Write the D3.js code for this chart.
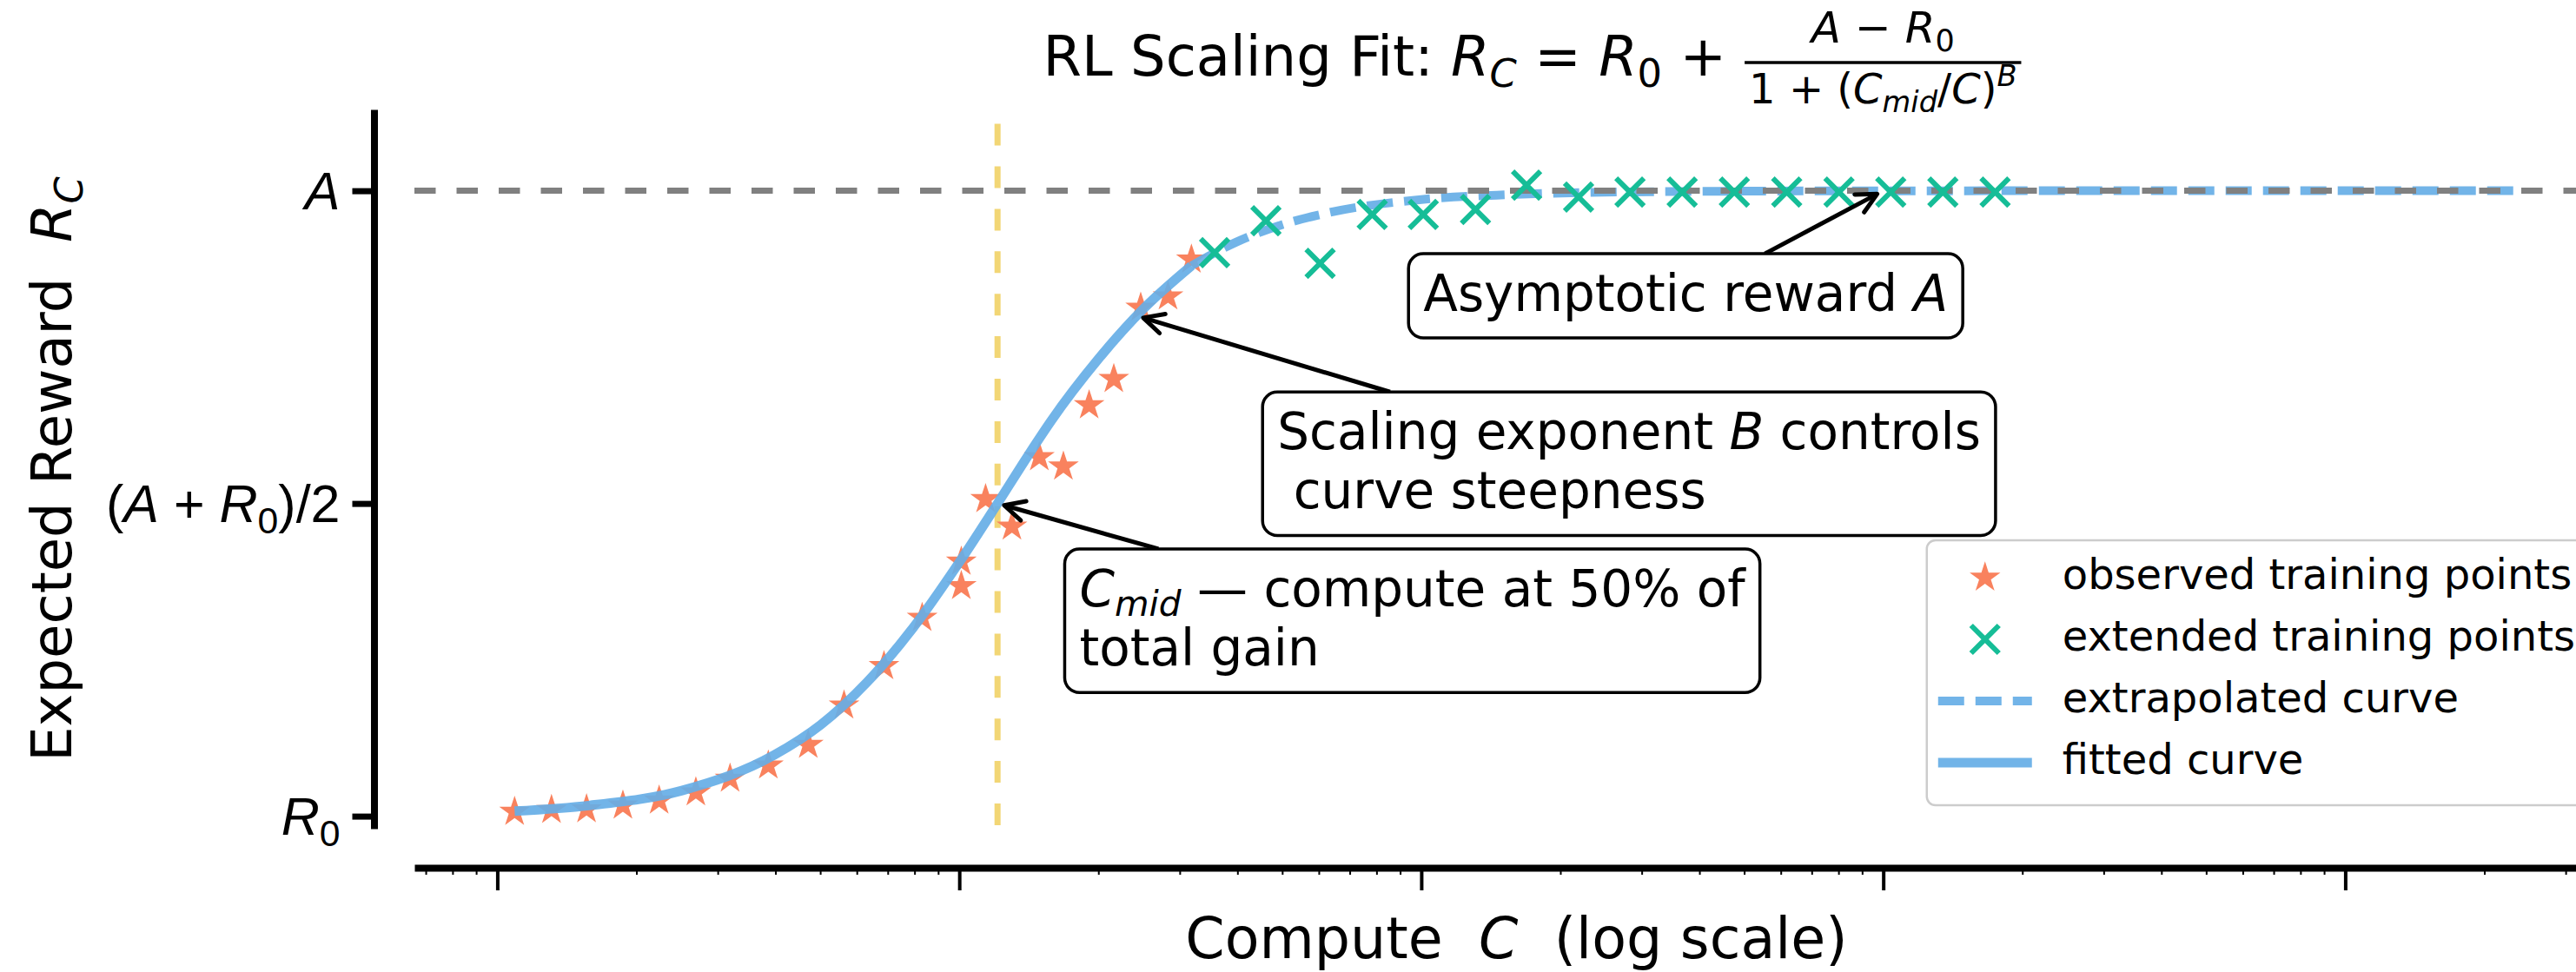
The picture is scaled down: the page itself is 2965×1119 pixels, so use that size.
<!DOCTYPE html>
<html>
<head>
<meta charset="utf-8">
<title>RL Scaling Fit</title>
<script src="https://cdn.jsdelivr.net/npm/d3@7"></script>
<style>
  body { margin: 0; background: #fff; }
  svg { display: block; font-family: "DejaVu Sans", sans-serif; }
  text { white-space: pre; }
</style>
</head>
<body>
<svg id="fit" width="2965" height="1119"></svg>
<script>
// reward is normalised: R0 = 0, A = 1
var R0 = 0, A = 1;
var Cmid = 12.1;

// observed training points (compute, reward)
var obsC = [1.09, 1.31, 1.56, 1.87, 2.24, 2.69, 3.19, 3.86, 4.71, 5.63, 6.87, 8.31, 10.1, 10.1, 11.4, 13.0, 14.9, 16.8, 19.1, 21.6, 24.7, 28.3, 31.8];
var obsR = [0.007, 0.010, 0.011, 0.017, 0.025, 0.038, 0.060, 0.081, 0.114, 0.177, 0.240, 0.317, 0.368, 0.407, 0.507, 0.463, 0.574, 0.559, 0.657, 0.699, 0.813, 0.831, 0.890];

// extended training points
var extC = [35.7, 46.1, 60.4, 78.3, 101, 131, 169, 219, 283, 367, 476, 618, 802, 1038, 1346, 1746];
var extR = [0.901, 0.952, 0.884, 0.962, 0.962, 0.970, 1.009, 0.990, 0.998, 0.998, 0.998, 0.998, 0.998, 0.998, 0.998, 0.998];

// fitted curve
var fitC = [1.09, 1.58, 2.51, 3.98, 5.01, 6.31, 7.94, 10.0, 12.1, 14.1, 15.8, 20.0, 25.1, 31.8];
var fitR = [0.008, 0.017, 0.041, 0.098, 0.146, 0.214, 0.301, 0.406, 0.500, 0.577, 0.632, 0.731, 0.812, 0.880];

// extrapolated curve
var extrapC = [31.8, 39.8, 50.1, 63.1, 100, 158, 316, 1000, 3162, 23700];
var extrapR = [0.880, 0.918, 0.946, 0.965, 0.986, 0.994, 0.9985, 0.9999, 1.0, 1.0];

var yTicks = [R0, (A + R0) / 2, A];
var yTickLabels = [
    [["R", "i"], ["0", "sub"]],
    [["(", ""], ["A", "i"], [" + ", ""], ["R", "i"], ["0", "sub"], [")/2", ""]],
    [["A", "i"]]
];

var legendLabels = ["observed training points", "extended training points", "extrapolated curve", "fitted curve"];

// annotations: text lines, text anchor (data), arrow target (data)
var noteLines = [
    [[["Asymptotic reward ", ""], ["A", "i"]]],
    [[["Scaling exponent ", ""], ["B", "i"], [" controls", ""]], [["\u00a0curve steepness", ""]]],
    [[["C", "i"], ["mid", "isub"], [" \u2014 compute at 50% of", ""]], [["total gain", ""]]]
];
var noteAt = [[101, 0.808], [48.8, 0.587], [18.2, 0.336]];
var notePoint = [[1000, A], [24.2, 0.8], [Cmid, (A + R0) / 2]];

var colors = { obs: "#f9825e", ext: "#16bd97", fit: "#66aee6", ref: "#808080", mid: "#f2d675" };

var svg = d3.select("svg#fit"),
    margin = { top: 126, left: 477 },
    width = 2537,
    height = 828,
    g = svg.append("g").attr("transform", "translate(" + margin.left + "," + margin.top + ")");

// log x with 5% padding around the plotted compute range
var allC = obsC.concat(extC, fitC, extrapC);
var lo = Math.log10(d3.min(allC)), hi = Math.log10(d3.max(allC)), pad = (hi - lo) * 0.05;
var x = d3.scaleLog()
    .domain([Math.pow(10, lo - pad), Math.pow(10, hi + pad)])
    .range([0, width]);

var y = d3.scaleLinear()
    .domain([-0.02, 1.13])
    .range([height, 0]);

// writes mathtext-like runs (italic, sub, sup) into a text node
function rich(sel, parts, fs) {
    var shift = 0;
    parts.forEach(function (p) {
        var kind = p[1] || "";
        var target = kind.indexOf("sub") >= 0 ? fs * 0.2 : kind.indexOf("sup") >= 0 ? -fs * 0.42 : 0;
        var ts = sel.append("tspan").text(p[0]);
        if (target !== shift) { ts.attr("dy", target - shift); shift = target; }
        if (kind.charAt(0) === "i") ts.style("font-style", "italic");
        if (target !== 0) ts.style("font-size", (fs * 0.7) + "px");
    });
}

// anchor by measuring, so tspans with shifts do not upset alignment
function place(t, ax, align) {
    var w = t.node().getComputedTextLength();
    t.attr("text-anchor", "start")
        .attr("x", align === "end" ? ax - w : align === "middle" ? ax - w / 2 : ax);
    return w;
}

function isMajor(d) {
    var l = Math.log10(d);
    return Math.abs(l - Math.round(l)) < 1e-9;
}

// axes, spines pushed outward
var xAxis = g.append("g")
    .attr("transform", "translate(0," + (height + 45) + ")")
    .call(d3.axisBottom(x).tickValues(x.ticks()).tickFormat("").tickSizeOuter(0));
xAxis.select(".domain").attr("stroke-width", 8);
xAxis.selectAll(".tick line")
    .attr("y2", function (d) { return isMajor(d) ? 26 : 8; })
    .attr("stroke-width", function (d) { return isMajor(d) ? 4 : 2; });

var yAxis = g.append("g")
    .attr("transform", "translate(-46.5,0)")
    .call(d3.axisLeft(y).tickValues(yTicks).tickFormat("").tickSize(25).tickSizeOuter(0));
yAxis.select(".domain").attr("stroke-width", 8);
yAxis.selectAll(".tick line").attr("stroke-width", 7);
yAxis.selectAll(".tick").each(function (d, i) {
    var t = d3.select(this).append("text")
        .attr("dy", "0.35em")
        .attr("fill", "#000")
        .style("font-size", "61px");
    rich(t, yTickLabels[i], 61);
    place(t, -39, "end");
});

// reference lines
g.append("line")
    .attr("x1", x(Cmid)).attr("x2", x(Cmid))
    .attr("y1", height - 4).attr("y2", 0)
    .attr("stroke", colors.mid)
    .attr("stroke-width", 7)
    .attr("stroke-dasharray", "25,23.9");

// observed points
var star = d3.symbol().type(d3.symbolStar).size(390);
g.append("g").selectAll("path")
    .data(obsC.map(function (c, i) { return [c, obsR[i]]; }))
    .enter().append("path")
    .attr("transform", function (d) { return "translate(" + x(d[0]) + "," + y(d[1]) + ")"; })
    .attr("d", star)
    .attr("fill", colors.obs);

var line = d3.line()
    .x(function (d) { return x(d[0]); })
    .y(function (d) { return y(d[1]); })
    .curve(d3.curveMonotoneX);

g.append("path")
    .datum(fitC.map(function (c, i) { return [c, fitR[i]]; }))
    .attr("d", line)
    .attr("fill", "none")
    .attr("stroke", colors.fit)
    .attr("stroke-opacity", 0.92)
    .attr("stroke-width", 11);

g.append("path")
    .datum(extrapC.map(function (c, i) { return [c, extrapR[i]]; }))
    .attr("d", line)
    .attr("fill", "none")
    .attr("stroke", colors.fit)
    .attr("stroke-opacity", 0.92)
    .attr("stroke-width", 10)
    .attr("stroke-dasharray", "30,13");

g.append("line")
    .attr("x1", 0).attr("x2", width)
    .attr("y1", y(A)).attr("y2", y(A))
    .attr("stroke", colors.ref)
    .attr("stroke-width", 7)
    .attr("stroke-dasharray", "24.5,24");

// extended points
var cross = "M-16,-16L16,16M-16,16L16,-16";
g.append("g").selectAll("path")
    .data(extC.map(function (c, i) { return [c, extR[i]]; }))
    .enter().append("path")
    .attr("transform", function (d) { return "translate(" + x(d[0]) + "," + y(d[1]) + ")"; })
    .attr("d", cross)
    .attr("stroke", colors.ext)
    .attr("stroke-width", 6);

// annotations
var fs = 58, lead = 68.4, boxPad = 17;
noteLines.forEach(function (lines, k) {
    var tx = x(noteAt[k][0]), ty = y(noteAt[k][1]);
    var note = g.append("g");
    var arrow = note.append("g");
    var box = note.append("rect");
    var maxW = 0;
    lines.forEach(function (parts, j) {
        var t = note.append("text")
            .attr("y", ty + j * lead)
            .style("font-size", fs + "px");
        rich(t, parts, fs);
        maxW = Math.max(maxW, place(t, tx, "start"));
    });
    var bx0 = tx - boxPad, bx1 = tx + maxW + boxPad,
        by0 = ty - 0.84 * fs - boxPad, by1 = ty + (lines.length - 1) * lead + 0.245 * fs + boxPad;
    box.attr("x", bx0).attr("y", by0)
        .attr("width", bx1 - bx0).attr("height", by1 - by0)
        .attr("rx", boxPad).attr("ry", boxPad)
        .attr("fill", "#fff").attr("stroke", "#000").attr("stroke-width", 3.5);

    var cx = (bx0 + bx1) / 2, cy = (by0 + by1) / 2;
    var px = x(notePoint[k][0]), py = y(notePoint[k][1]);
    var dx = px - cx, dy = py - cy, len = Math.sqrt(dx * dx + dy * dy);
    var ux = dx / len, uy = dy / len;
    var t0 = Math.min((bx1 - bx0) / 2 / Math.abs(dx), (by1 - by0) / 2 / Math.abs(dy));
    var sx = cx + dx * t0, sy = cy + dy * t0;
    var ex = px - ux * 8, ey = py - uy * 8;
    var hl = 23, hw = 11.5;
    arrow.append("line")
        .attr("x1", sx).attr("y1", sy).attr("x2", ex).attr("y2", ey)
        .attr("stroke", "#000").attr("stroke-width", 5);
    arrow.append("path")
        .attr("d", "M" + (ex - ux * hl - uy * hw) + "," + (ey - uy * hl + ux * hw) +
            "L" + ex + "," + ey +
            "L" + (ex - ux * hl + uy * hw) + "," + (ey - uy * hl - ux * hw))
        .attr("fill", "none").attr("stroke", "#000").attr("stroke-width", 5)
        .attr("stroke-linecap", "round").attr("stroke-linejoin", "round");
});

// labels
var xl = svg.append("text")
    .attr("y", margin.top + height + 149)
    .style("font-size", "65px");
rich(xl, [["Compute\u00a0\u00a0", ""], ["C", "i"], ["\u00a0\u00a0(log scale)", ""]], 65);
place(xl, margin.left + width / 2, "middle");

var yl = svg.append("text")
    .attr("transform", "translate(82," + (margin.top + height / 2) + ") rotate(-90)")
    .style("font-size", "64px");
rich(yl, [["Expected Reward\u00a0\u00a0", ""], ["R", "i"], ["C", "isub"]], 64);
place(yl, 0, "middle");

// title with the fraction
var title = svg.append("g");
var head = title.append("text").attr("y", 87).style("font-size", "64px");
rich(head, [["RL Scaling Fit: ", ""], ["R", "i"], ["C", "isub"], [" = ", ""], ["R", "i"], ["0", "sub"], [" +", ""]], 64);
var num = title.append("text").attr("y", 49).style("font-size", "50px");
rich(num, [["A", "i"], [" \u2212 ", ""], ["R", "i"], ["0", "sub"]], 50);
var den = title.append("text").attr("y", 119).style("font-size", "48px");
rich(den, [["1 + (", ""], ["C", "i"], ["mid", "isub"], ["/", ""], ["C", "i"], [")", ""], ["B", "isup"]], 48);

var headW = head.node().getComputedTextLength();
var fracW = Math.max(num.node().getComputedTextLength(), den.node().getComputedTextLength()) + 10;
var total = headW + 21 + fracW;
var x0 = margin.left + width / 2 + 18 - total / 2;
var fx = x0 + headW + 21 + fracW / 2;
place(head, x0, "start");
place(num, fx, "middle");
place(den, fx, "middle");
title.append("line")
    .attr("x1", fx - fracW / 2).attr("x2", fx + fracW / 2)
    .attr("y1", 72).attr("y2", 72)
    .attr("stroke", "#000").attr("stroke-width", 3.5);

// legend, lower right of the axes
var legend = svg.append("g");
var frame = legend.append("rect");
var maxL = 0;
var rows = legend.selectAll("g.row")
    .data(legendLabels)
    .enter().append("g")
    .attr("class", "row")
    .attr("transform", function (d, i) { return "translate(0," + (43 + i * 71) + ")"; });
rows.append("text")
    .attr("x", 156)
    .attr("y", 13)
    .style("font-size", "48px")
    .text(function (d) { return d; })
    .each(function () { maxL = Math.max(maxL, this.getComputedTextLength()); });

rows.filter(function (d, i) { return i === 0; }).append("path")
    .attr("transform", "translate(67,0)")
    .attr("d", star)
    .attr("fill", colors.obs);
rows.filter(function (d, i) { return i === 1; }).append("path")
    .attr("transform", "translate(67,0)")
    .attr("d", cross)
    .attr("stroke", colors.ext)
    .attr("stroke-width", 6);
rows.filter(function (d, i) { return i === 2; }).append("line")
    .attr("x1", 13).attr("x2", 121)
    .attr("stroke", colors.fit).attr("stroke-opacity", 0.92)
    .attr("stroke-width", 10).attr("stroke-dasharray", "30,13");
rows.filter(function (d, i) { return i === 3; }).append("line")
    .attr("x1", 13).attr("x2", 121)
    .attr("stroke", colors.fit).attr("stroke-opacity", 0.92)
    .attr("stroke-width", 11);

var legW = 156 + maxL + 26, legH = 305;
frame.attr("width", legW).attr("height", legH)
    .attr("rx", 10).attr("ry", 10)
    .attr("fill", "#fff").attr("fill-opacity", 0.8)
    .attr("stroke", "#cccccc").attr("stroke-width", 2.5);
legend.attr("transform", "translate(" + (margin.left + width - 24 - legW) + "," + (margin.top + height - 27 - legH) + ")");
</script>
</body>
</html>
